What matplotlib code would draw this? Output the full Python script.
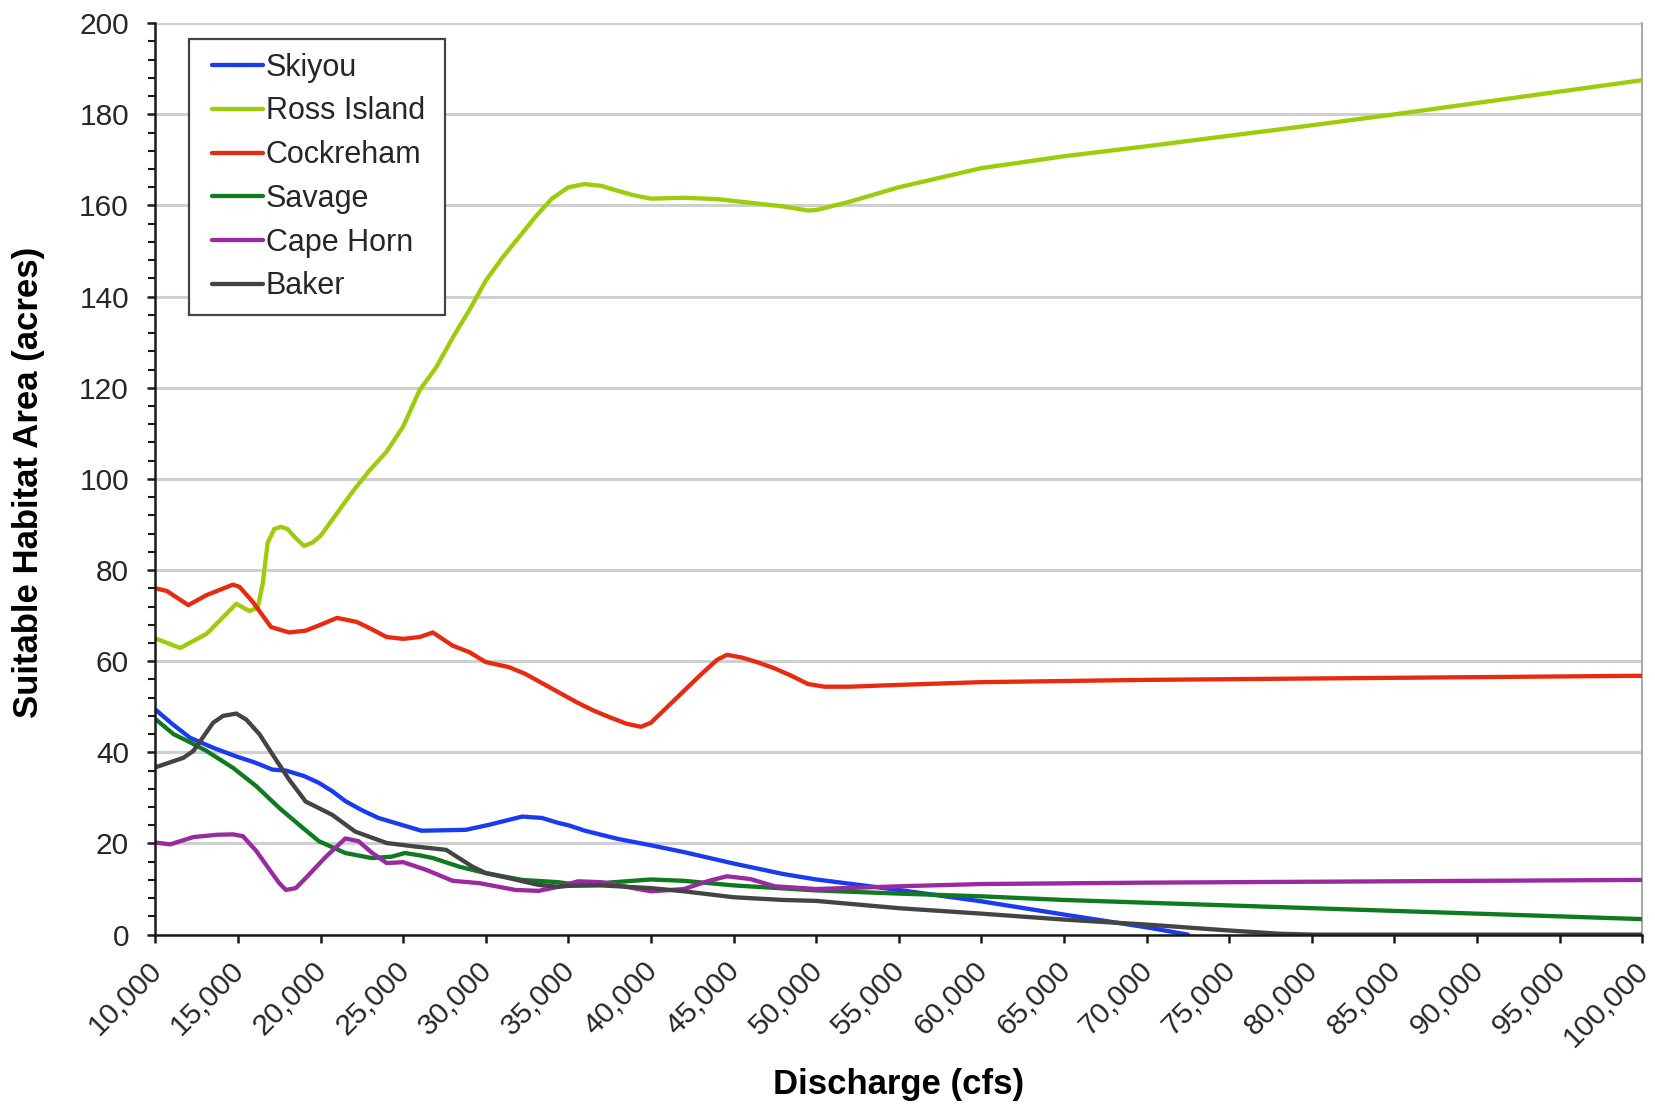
import matplotlib
matplotlib.use("Agg")
import matplotlib.pyplot as plt
from matplotlib.ticker import MultipleLocator, FuncFormatter
from matplotlib.transforms import ScaledTranslation
from matplotlib.legend_handler import HandlerLine2D
from matplotlib.lines import Line2D

# Discharge (cfs) and suitable habitat area (acres) for each site
skiyou_q = [10000, 11000, 12100, 13500, 14900, 16000, 17100, 17900, 19000, 19900, 20700,
            21500, 22500, 23500, 24800, 26100, 27500, 28800, 30200, 31200, 32200, 33400,
            34400, 35000, 36000, 38000, 40000, 42000, 45000, 48000, 50000, 55000, 60000,
            65000, 70000, 72500]
skiyou_a = [49.4, 46.3, 43.2, 41.0, 39.1, 37.8, 36.2, 36.0, 34.8, 33.3, 31.5,
            29.3, 27.3, 25.6, 24.2, 22.8, 22.9, 23.0, 24.1, 25.0, 25.9, 25.6,
            24.5, 24.0, 22.8, 21.0, 19.6, 18.1, 15.6, 13.3, 12.1, 9.8, 7.3,
            4.4, 1.6, 0.0]

ross_q = [10000, 11500, 13100, 14900, 15700, 16200, 16500, 16800, 17200, 17600, 18000,
          18500, 19000, 19500, 20000, 21000, 22000, 23000, 24000, 25000, 26000, 27000,
          28000, 29000, 30000, 31000, 32000, 33000, 34000, 35000, 36000, 37000, 38000,
          39000, 40000, 42000, 44000, 46000, 48000, 49500, 50000, 52000, 55000, 60000,
          65000, 70000, 75000, 80000, 85000, 90000, 95000, 100000]
ross_a = [65.0, 62.9, 66.0, 72.6, 71.0, 71.8, 77.0, 86.0, 89.0, 89.5, 89.0,
          87.0, 85.3, 86.0, 87.5, 92.5, 97.5, 102.0, 106.0, 111.5, 119.5, 124.5,
          131.0, 137.0, 143.5, 148.5, 153.0, 157.5, 161.5, 164.0, 164.7, 164.3, 163.2,
          162.2, 161.5, 161.7, 161.4, 160.6, 159.8, 158.9, 159.0, 160.8, 164.0, 168.2,
          170.8, 173.0, 175.3, 177.6, 180.0, 182.5, 185.0, 187.5]

cock_q = [10000, 10700, 12000, 13100, 14700, 15100, 15900, 17000, 18100, 19100, 20000,
          21000, 22200, 23000, 24000, 25000, 26000, 26800, 28000, 29000, 30000, 31400,
          32400, 33400, 34400, 35500, 36500, 37500, 38500, 39400, 40000, 41000, 42000,
          43000, 44000, 44600, 45500, 46500, 47500, 48500, 49500, 50500, 52000, 55000,
          60000, 70000, 80000, 90000, 100000]
cock_a = [76.0, 75.4, 72.3, 74.5, 76.8, 76.3, 73.0, 67.5, 66.3, 66.7, 68.0,
          69.5, 68.6, 67.2, 65.3, 64.9, 65.3, 66.3, 63.4, 62.0, 59.8, 58.7,
          57.2, 55.2, 53.2, 51.0, 49.2, 47.7, 46.3, 45.6, 46.5, 50.0, 53.5,
          57.0, 60.3, 61.4, 60.8, 59.7, 58.4, 56.8, 55.0, 54.4, 54.4, 54.8,
          55.4, 55.9, 56.2, 56.5, 56.8]

savage_q = [10000, 11100, 12100, 13100, 14700, 16100, 17500, 18800, 19900, 21500, 23100,
            24300, 25100, 26000, 26800, 28400, 30000, 32200, 34400, 35000, 37000, 40000,
            42000, 45000, 50000, 55000, 60000, 65000, 70000, 75000, 80000, 85000, 90000,
            95000, 100000]
savage_a = [47.3, 44.0, 42.2, 40.3, 36.6, 32.6, 27.8, 23.8, 20.5, 17.9, 16.8,
            17.1, 17.9, 17.4, 16.8, 14.9, 13.5, 12.0, 11.5, 11.2, 11.3, 12.1,
            11.8, 10.8, 9.7, 9.0, 8.4, 7.6, 7.0, 6.4, 5.8, 5.2, 4.6,
            4.0, 3.4]

cape_q = [10000, 10900, 12300, 13700, 14700, 15300, 16100, 17000, 17500, 17900, 18500,
          19100, 20300, 21500, 22300, 23100, 24000, 25000, 26400, 28000, 29600, 31800,
          33200, 34400, 35600, 37000, 38500, 40000, 42000, 43500, 44600, 46000, 47500,
          50000, 55000, 60000, 70000, 80000, 90000, 100000]
cape_a = [20.2, 19.8, 21.4, 21.9, 22.0, 21.6, 18.4, 13.8, 11.3, 9.8, 10.2,
          12.4, 17.0, 21.1, 20.5, 18.0, 15.7, 15.9, 14.2, 11.8, 11.3, 9.8,
          9.6, 10.5, 11.7, 11.5, 10.5, 9.5, 10.0, 11.8, 12.8, 12.2, 10.6,
          10.0, 10.6, 11.1, 11.4, 11.6, 11.8, 12.0]

baker_q = [10000, 11700, 12300, 12900, 13500, 14100, 14900, 15500, 16300, 17100, 18100,
           19100, 20700, 22100, 24000, 25800, 27600, 29200, 30000, 31400, 33200, 34400,
           35000, 37000, 40000, 42000, 45000, 48000, 50000, 55000, 60000, 65000, 70000,
           75000, 78000, 80000, 90000, 100000]
baker_a = [36.7, 38.8, 40.3, 43.4, 46.5, 48.0, 48.5, 47.2, 44.0, 39.5, 34.0,
           29.2, 26.3, 22.6, 20.1, 19.3, 18.6, 14.9, 13.5, 12.4, 10.9, 10.5,
           10.7, 10.8, 10.2, 9.5, 8.2, 7.6, 7.4, 5.8, 4.6, 3.3, 2.2,
           0.9, 0.2, 0.0, 0.0, 0.0]

series = [
    ("Skiyou", skiyou_q, skiyou_a, "#1a3cf0"),
    ("Ross Island", ross_q, ross_a, "#9ccc0a"),
    ("Cockreham", cock_q, cock_a, "#e82a10"),
    ("Savage", savage_q, savage_a, "#107a20"),
    ("Cape Horn", cape_q, cape_a, "#9a2aa0"),
    ("Baker", baker_q, baker_a, "#444444"),
]

x_ticks = list(range(10000, 100001, 5000))

plt.rcParams["font.family"] = ["Liberation Sans", "DejaVu Sans"]

fig = plt.figure(figsize=(16.56, 11.05), dpi=100)
ax = fig.add_axes([0.0938, 0.1542, 0.8979, 0.8248])

for name, q, a, color in series:
    ax.plot(q, a, color=color, lw=3.1, label=name,
            solid_joinstyle="round", solid_capstyle="round", zorder=3)

ax.set_xlim(10000, 100000)
ax.set_ylim(0, 200)
ax.set_xticks(x_ticks)
ax.xaxis.set_major_formatter(FuncFormatter(lambda v, p: f"{int(v):,}"))
ax.yaxis.set_major_locator(MultipleLocator(20))
ax.yaxis.set_minor_locator(MultipleLocator(4))

ax.grid(axis="y", which="major", color="#cfcfcf", lw=2.2, zorder=0)
ax.set_axisbelow(True)

for side in ("left", "bottom"):
    ax.spines[side].set_color("#1a1a1a")
    ax.spines[side].set_linewidth(1.8)
    ax.spines[side].set_zorder(4)
ax.spines["top"].set_visible(False)
ax.spines["right"].set_color("#9a9a9a")
ax.spines["right"].set_linewidth(1.2)

ax.tick_params(axis="y", which="major", direction="out", length=6, width=1.8,
               color="#1a1a1a", labelsize=21.5, labelcolor="#262626", pad=13)
ax.tick_params(axis="y", which="minor", direction="out", length=5, width=1.5,
               color="#1a1a1a")
ax.tick_params(axis="x", which="major", direction="out", length=6, width=1.8,
               color="#1a1a1a", labelsize=21.5, labelcolor="#262626", pad=4)
shift = ScaledTranslation(-0.08, -0.08, fig.dpi_scale_trans)
for lbl in ax.get_xticklabels():
    lbl.set_rotation(45)
    lbl.set_ha("right")
    lbl.set_va("top")
    lbl.set_rotation_mode("anchor")
    lbl.set_transform(lbl.get_transform() + shift)

ax.set_xlabel("Discharge (cfs)", fontsize=25, fontweight="bold", va="center")
ax.xaxis.set_label_coords(0.5, -0.165)
ax.set_ylabel("Suitable Habitat Area (acres)", fontsize=25, fontweight="bold", va="center")
ax.yaxis.set_label_coords(-0.0853, 0.496)

# legend: handles indented inside a box wider than its contents
leg = ax.legend(loc="upper left", bbox_to_anchor=(0.0227, 0.9827, 0.172, 0.0),
                mode="expand", borderaxespad=0,
                handler_map={Line2D: HandlerLine2D(xpad=0.29)},
                fontsize=22, handlelength=1.96, handletextpad=0.1, labelspacing=0.45,
                borderpad=0.45, fancybox=False, framealpha=1, edgecolor="#444444")
leg.get_frame().set_linewidth(1.6)
for t in leg.get_texts():
    t.set_color("#262626")

fig.savefig("out.png", dpi=100, facecolor="white")
